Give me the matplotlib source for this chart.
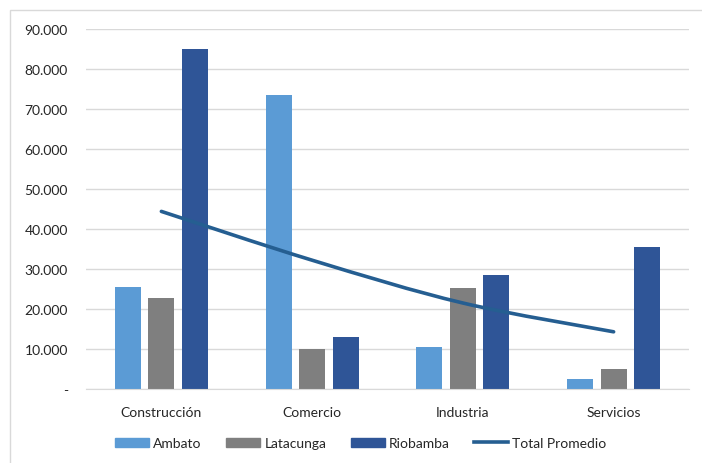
import matplotlib.pyplot as plt
import matplotlib.patches as mpatches
from matplotlib.path import Path
from matplotlib.lines import Line2D
from matplotlib.ticker import FuncFormatter
import numpy as np

categories = ["Construcción", "Comercio", "Industria", "Servicios"]
ambato = [25400, 73500, 10600, 2500]
latacunga = [22700, 10000, 25200, 5000]
riobamba = [85000, 13100, 28600, 35400]
total_promedio = [44400, 32200, 21500, 14300]

colors = {"Ambato": "#5B9BD5", "Latacunga": "#7F7F7F", "Riobamba": "#2F5597"}
line_color = "#255E91"

plt.rcParams['font.family'] = ['Lato', 'DejaVu Sans']

fig = plt.figure(figsize=(7.02, 4.64), dpi=100)
ax = fig.add_axes([86 / 702, 1 - 390 / 464, (689 - 86) / 702, (390 - 30) / 464])

x = np.arange(len(categories))
w = 0.172
step = 0.222
for off, (name, vals) in zip([-step, 0, step],
                             [("Ambato", ambato), ("Latacunga", latacunga), ("Riobamba", riobamba)]):
    ax.bar(x + off, vals, width=w, color=colors[name], zorder=2)


def smooth_path(xs, ys, t=1 / 6):
    # Catmull-Rom style bezier through the points (Excel "smoothed line")
    pts = list(zip(xs, ys))
    verts = [pts[0]]
    codes = [Path.MOVETO]
    for i in range(len(pts) - 1):
        p0 = pts[i - 1] if i > 0 else pts[i]
        p1 = pts[i]
        p2 = pts[i + 1]
        p3 = pts[i + 2] if i + 2 < len(pts) else pts[i + 1]
        c1 = (p1[0] + (p2[0] - p0[0]) * t, p1[1] + (p2[1] - p0[1]) * t)
        c2 = (p2[0] - (p3[0] - p1[0]) * t, p2[1] - (p3[1] - p1[1]) * t)
        verts += [c1, c2, p2]
        codes += [Path.CURVE4] * 3
    return Path(verts, codes)


ax.add_patch(mpatches.PathPatch(smooth_path(x, total_promedio), fill=False,
                                edgecolor=line_color, lw=2.6, capstyle='round', zorder=3))

ax.set_xlim(-0.5, 3.5)
ax.set_ylim(0, 90000)
ax.set_yticks(range(0, 90001, 10000))
ax.yaxis.set_major_formatter(FuncFormatter(
    lambda v, p: "-" if v == 0 else f"{int(v):,}".replace(",", ".")))
ax.set_xticks(x)
ax.set_xticklabels(categories)
ax.tick_params(axis='both', length=0, labelsize=10, colors='#262626')
ax.tick_params(axis='y', pad=13)
ax.tick_params(axis='x', pad=12)
ax.grid(axis='y', color='#D9D9D9', lw=1, zorder=0)
for s in ['top', 'right', 'left']:
    ax.spines[s].set_visible(False)
ax.spines['bottom'].set_color('#D9D9D9')

handles = [mpatches.Patch(color=colors[k], label=k) for k in ["Ambato", "Latacunga", "Riobamba"]]
handles.append(Line2D([0], [0], color=line_color, lw=2.6, label="Total Promedio"))
fig.legend(handles=handles, loc='center', bbox_to_anchor=(0.514, 1 - 444 / 464), ncol=4,
           frameon=False, fontsize=10, handlelength=2.45, handleheight=0.6,
           handletextpad=0.3, columnspacing=1.75, labelcolor='#262626')

fig.add_artist(mpatches.Rectangle((10 / 702, -0.1), 1.2, 1.1 - 11 / 464,
                                  transform=fig.transFigure, fill=False,
                                  edgecolor='#D9D9D9', lw=1))

fig.savefig("out.png", dpi=100)
